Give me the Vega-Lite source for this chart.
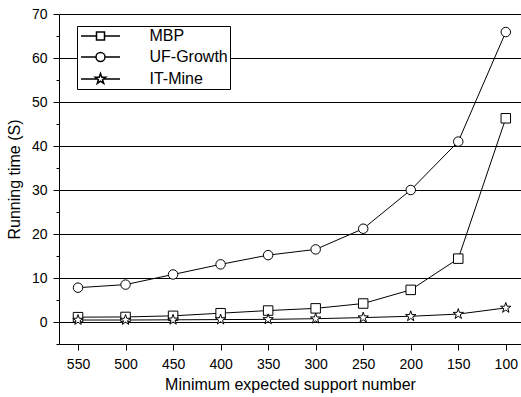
{
  "$schema": "https://vega.github.io/schema/vega-lite/v6.json",
  "width": 462,
  "height": 330,
  "autosize": {"type": "none"},
  "padding": {"left": 59, "top": 14, "right": 0, "bottom": 53},
  "background": "white",
  "config": {"view": {"stroke": null}, "font": "Liberation Sans"},
  "data": {
    "values": [
      {"algorithm": "MBP", "support": 550, "time": 1.1},
      {"algorithm": "MBP", "support": 500, "time": 1.15},
      {"algorithm": "MBP", "support": 450, "time": 1.4},
      {"algorithm": "MBP", "support": 400, "time": 2.0},
      {"algorithm": "MBP", "support": 350, "time": 2.6},
      {"algorithm": "MBP", "support": 300, "time": 3.1},
      {"algorithm": "MBP", "support": 250, "time": 4.2},
      {"algorithm": "MBP", "support": 200, "time": 7.3},
      {"algorithm": "MBP", "support": 150, "time": 14.4},
      {"algorithm": "MBP", "support": 100, "time": 46.3},
      {"algorithm": "UF-Growth", "support": 550, "time": 7.8},
      {"algorithm": "UF-Growth", "support": 500, "time": 8.5},
      {"algorithm": "UF-Growth", "support": 450, "time": 10.8},
      {"algorithm": "UF-Growth", "support": 400, "time": 13.1},
      {"algorithm": "UF-Growth", "support": 350, "time": 15.2},
      {"algorithm": "UF-Growth", "support": 300, "time": 16.5},
      {"algorithm": "UF-Growth", "support": 250, "time": 21.2},
      {"algorithm": "UF-Growth", "support": 200, "time": 30.0},
      {"algorithm": "UF-Growth", "support": 150, "time": 41.0},
      {"algorithm": "UF-Growth", "support": 100, "time": 65.9},
      {"algorithm": "IT-Mine", "support": 550, "time": 0.45},
      {"algorithm": "IT-Mine", "support": 500, "time": 0.45},
      {"algorithm": "IT-Mine", "support": 450, "time": 0.5},
      {"algorithm": "IT-Mine", "support": 400, "time": 0.55},
      {"algorithm": "IT-Mine", "support": 350, "time": 0.6},
      {"algorithm": "IT-Mine", "support": 300, "time": 0.75},
      {"algorithm": "IT-Mine", "support": 250, "time": 1.0},
      {"algorithm": "IT-Mine", "support": 200, "time": 1.3},
      {"algorithm": "IT-Mine", "support": 150, "time": 1.8},
      {"algorithm": "IT-Mine", "support": 100, "time": 3.2}
    ]
  },
  "encoding": {
    "x": {
      "field": "support",
      "type": "quantitative",
      "title": "Minimum expected support number",
      "scale": {"domain": [84, 570], "reverse": true, "zero": false, "nice": false},
      "axis": {
        "values": [100, 150, 200, 250, 300, 350, 400, 450, 500, 550],
        "format": "d",
        "grid": false,
        "tickSize": 6,
        "labelPadding": 7,
        "labelFontSize": 14,
        "labelColor": "black",
        "labelFlush": false,
        "titleFontSize": 16,
        "titleFontWeight": "normal",
        "titleColor": "black",
        "titlePadding": 5,
        "domainColor": "black",
        "tickColor": "black"
      }
    },
    "y": {
      "field": "time",
      "type": "quantitative",
      "title": "Running time (S)",
      "scale": {"domain": [-5, 70], "zero": false, "nice": false},
      "axis": {
        "values": [-5, 0, 5, 10, 15, 20, 25, 30, 35, 40, 45, 50, 55, 60, 65, 70],
        "labelExpr": "datum.value % 10 === 0 ? datum.label : ''",
        "tickSize": {"condition": {"test": "datum.value % 10 === 0", "value": 6}, "value": 3},
        "grid": true,
        "gridColor": "black",
        "gridWidth": 1,
        "gridOpacity": {"condition": {"test": "datum.value % 10 === 0", "value": 1}, "value": 0},
        "labelPadding": 6,
        "labelFontSize": 14,
        "labelColor": "black",
        "labelFlush": false,
        "labelOverlap": false,
        "titleFontSize": 16,
        "titleFontWeight": "normal",
        "titleColor": "black",
        "titlePadding": 9,
        "domainColor": "black",
        "tickColor": "black"
      }
    }
  },
  "layer": [
    {
      "mark": {"type": "line", "color": "black", "strokeWidth": 1},
      "encoding": {"detail": {"field": "algorithm"}}
    },
    {
      "mark": {"type": "point", "filled": true, "fill": "white", "stroke": "black", "strokeWidth": 1, "size": 90, "opacity": 1},
      "encoding": {
        "shape": {
          "field": "algorithm",
          "type": "nominal",
          "scale": {
            "domain": ["MBP", "UF-Growth", "IT-Mine"],
            "range": ["square", "circle", "M0,-1.15L0.2645,-0.3641L1.0937,-0.3554L0.428,0.1391L0.676,0.9304L0,0.45L-0.676,0.9304L-0.428,0.1391L-1.0937,-0.3554L-0.2645,-0.3641Z"]
          },
          "legend": null
        }
      }
    },
    {
      "transform": [{"filter": "false"}],
      "mark": {"type": "point", "filled": true, "fill": "white", "stroke": "black", "strokeWidth": 1, "size": 100, "opacity": 1},
      "encoding": {
        "shape": {
          "field": "algorithm",
          "type": "nominal",
          "scale": {
            "domain": ["MBP", "UF-Growth", "IT-Mine"],
            "range": [
              "M-3.9,0H-0.8M0.8,0H3.9M-0.8,-0.8H0.8V0.8H-0.8Z",
              "M-3.9,0H-0.9M0.9,0H3.9M-0.9,0A0.9,0.9,0,1,0,0.9,0A0.9,0.9,0,1,0,-0.9,0Z",
              "M-3.9,0H-0.6M0.6,0H3.9M0,-1.1L0.2586,-0.356L1.0462,-0.3399L0.4185,0.136L0.6466,0.8899L0,0.44L-0.6466,0.8899L-0.4185,0.136L-1.0462,-0.3399L-0.2586,-0.356Z"
            ]
          },
          "legend": {
            "orient": "none",
            "legendX": 18,
            "legendY": 12,
            "title": null,
            "padding": 2,
            "strokeColor": "black",
            "fillColor": "white",
            "labelFontSize": 16,
            "labelColor": "black",
            "symbolSize": 100,
            "symbolOffset": 13.5,
            "labelOffset": 41,
            "rowPadding": 5
          }
        }
      }
    }
  ],
  "resolve": {"scale": {"shape": "independent"}, "legend": {"shape": "independent"}}
}
